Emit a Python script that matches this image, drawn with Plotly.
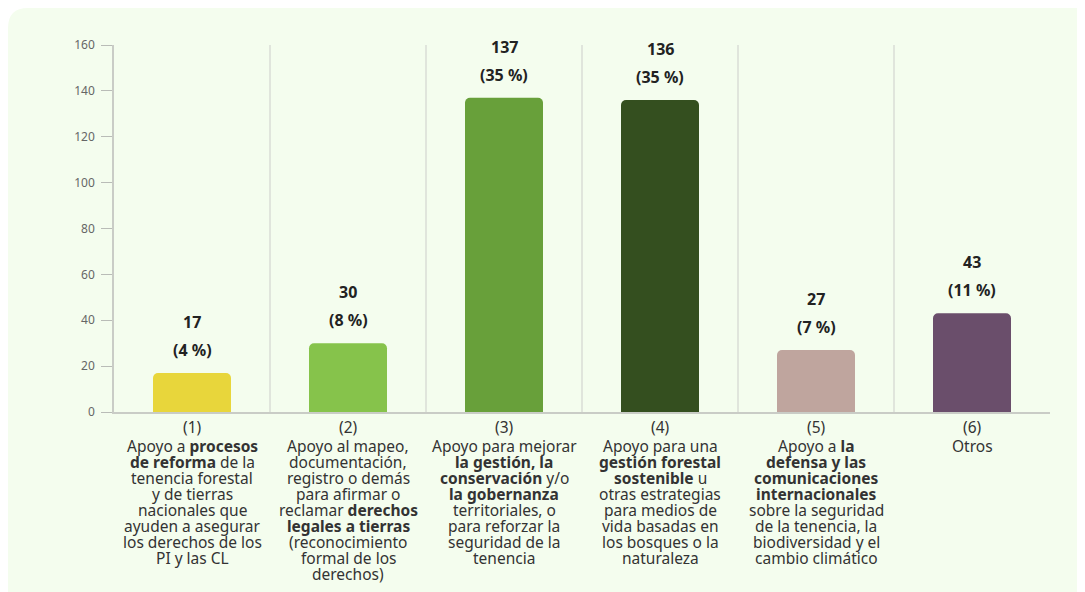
import plotly.graph_objects as go

categories = ["(1)", "(2)", "(3)", "(4)", "(5)", "(6)"]
values = [17, 30, 137, 136, 27, 43]
percent_labels = ["(4 %)", "(8 %)", "(35 %)", "(35 %)", "(7 %)", "(11 %)"]
bar_colors = ["#E8D63B", "#86C34B", "#68A03A", "#344F1F", "#BFA59E", "#6A4E6B"]
tick_labels = [
    "(1)<br>Apoyo a <b>procesos</b><br><b>de reforma</b> de la<br>tenencia forestal<br>y de tierras<br>nacionales que<br>ayuden a asegurar<br>los derechos de los<br>PI y las CL",
    "(2)<br>Apoyo al mapeo,<br>documentación,<br>registro o demás<br>para afirmar o<br>reclamar <b>derechos</b><br><b>legales a tierras</b><br>(reconocimiento<br>formal de los<br>derechos)",
    "(3)<br>Apoyo para mejorar<br><b>la gestión, la</b><br><b>conservación</b> y/o<br><b>la gobernanza</b><br>territoriales, o<br>para reforzar la<br>seguridad de la<br>tenencia",
    "(4)<br>Apoyo para una<br><b>gestión forestal</b><br><b>sostenible</b> u<br>otras estrategias<br>para medios de<br>vida basadas en<br>los bosques o la<br>naturaleza",
    "(5)<br>Apoyo a <b>la</b><br><b>defensa y las</b><br><b>comunicaciones</b><br><b>internacionales</b><br>sobre la seguridad<br>de la tenencia, la<br>biodiversidad y el<br>cambio climático",
    "(6)<br>Otros",
]

W, H = 1085, 592
L, R, T, B = 106, 43, 37, 188
pw, ph = W - L - R, H - T - B
BG = "#F4FDEE"

def px_x(p):
    return (p - L) / pw

def px_y(p):
    return (H - B - p) / ph

fig = go.Figure()
fig.add_trace(go.Bar(
    x=list(range(len(categories))),
    y=values,
    marker=dict(color=bar_colors, cornerradius=5, line=dict(width=0)),
    width=0.5,
    hoverinfo="skip",
))

# rounded top-left corner of panel (white cut-out)
r = 20
cx0, cy0 = px_x(0), px_y(0)
cxr, cyr = px_x(r), px_y(r)
shapes = [dict(type="path", xref="paper", yref="paper",
               path=f"M {cx0},{cy0} L {cxr},{cy0} Q {cx0},{cy0} {cx0},{cyr} Z",
               fillcolor="white", line=dict(width=0), layer="below")]
for i in range(len(categories) - 1):
    shapes.append(dict(type="line", xref="x", yref="y", x0=i + 0.5, x1=i + 0.5,
                       y0=0, y1=160, line=dict(color="#D6D9D3", width=1.3), layer="below"))

annotations = []
for i, (v, p) in enumerate(zip(values, percent_labels)):
    annotations.append(dict(x=i, y=v, xref="x", yref="y", text=f"<b>{v}</b>", showarrow=False,
                            yanchor="middle", yshift=51, font=dict(size=16, color="#222222")))
    annotations.append(dict(x=i, y=v, xref="x", yref="y", text=f"<b>{p}</b>", showarrow=False,
                            yanchor="middle", yshift=23, font=dict(size=16, color="#222222")))

# category labels, one annotation per line for tight line spacing
for i, lab in enumerate(tick_labels):
    lines = lab.split("<br>")
    for k, line in enumerate(lines):
        shift = -15 if k == 0 else -(34 + 16 * (k - 1))
        annotations.append(dict(x=i, y=0, xref="x", yref="y", text=line, showarrow=False,
                                yanchor="middle", yshift=shift,
                                font=dict(size=15.5, color="#333333")))

fig.update_layout(
    width=W, height=H,
    margin=dict(l=L, r=R, t=T, b=B, autoexpand=False),
    paper_bgcolor=BG,
    plot_bgcolor="rgba(0,0,0,0)",
    font=dict(family="Noto Sans", color="#333333"),
    showlegend=False,
    shapes=shapes,
    annotations=annotations,
    xaxis=dict(
        range=[-0.5, 5.5],
        tickmode="array",
        tickvals=list(range(len(categories))),
        showticklabels=False,
        ticks="",
        showgrid=False,
        zeroline=False,
        showline=True,
        linecolor="#C9CCC6",
        linewidth=1.5,
        fixedrange=True,
    ),
    yaxis=dict(
        range=[0, 160],
        dtick=20,
        ticks="outside",
        ticklen=11,
        tickcolor="#B9BCB7",
        tickwidth=1,
        showgrid=False,
        zeroline=False,
        showline=True,
        linecolor="#C9CCC6",
        linewidth=1.5,
        tickfont=dict(size=12, color="#666666"),
        ticklabelstandoff=4,
        fixedrange=True,
    ),
)

fig.write_html("out.html")
